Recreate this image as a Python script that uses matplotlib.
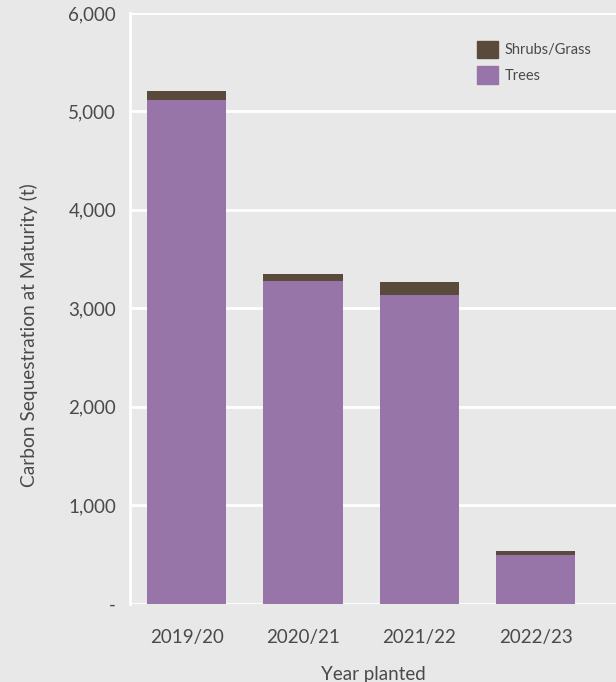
import matplotlib.pyplot as plt
import numpy as np
from matplotlib.patches import Patch
from matplotlib.ticker import FuncFormatter

years = ["2019/20", "2020/21", "2021/22", "2022/23"]
trees = [5115, 3275, 3135, 493]
shrubs = [95, 75, 130, 40]

bg = "#e8e8e8"
purple = "#9875a8"
brown = "#5a4a3c"
txt = "#4a4a4a"
font = ["Lato", "DejaVu Sans"]

fig = plt.figure(figsize=(6.16, 6.82), dpi=100, facecolor=bg)
ax = fig.add_axes([130 / 616, (682 - 603.5) / 682, 1 - 130 / 616, 590.5 / 682])
ax.set_facecolor(bg)

x = np.arange(len(years))
ax.bar(x, trees, width=0.68, color=purple, zorder=3)
ax.bar(x, shrubs, width=0.68, bottom=trees, color=brown, zorder=3)

ax.set_ylim(0, 6000)
ax.set_xlim(-0.486, 3.69)
ax.set_yticks(np.arange(0, 6001, 1000))
ax.yaxis.set_major_formatter(FuncFormatter(lambda v, p: "-" if v == 0 else f"{int(v):,}"))
ax.grid(axis="y", color="white", linewidth=2, zorder=1)
ax.set_axisbelow(True)

for s in ["top", "right", "bottom"]:
    ax.spines[s].set_visible(False)
ax.spines["left"].set_color("white")
ax.spines["left"].set_linewidth(2)

ax.set_xticks(x)
ax.set_xticklabels(years)
ax.tick_params(length=0, labelsize=13.5, labelcolor=txt)
ax.tick_params(axis="y", pad=10)
ax.tick_params(axis="x", pad=18)
for lab in ax.get_xticklabels() + ax.get_yticklabels():
    lab.set_family(font)

ax.set_xlabel("Year planted", fontsize=13.5, color=txt, labelpad=15, family=font)
ax.set_ylabel("Carbon Sequestration at Maturity (t)", fontsize=13.8, color=txt,
              family=["Liberation Sans Narrow", "Lato", "DejaVu Sans"])
ax.yaxis.set_label_coords(-0.189, 0.455)

handles = [Patch(color=brown, label="Shrubs/Grass"), Patch(color=purple, label="Trees")]
leg = ax.legend(handles=handles, loc="upper left", bbox_to_anchor=(0.686, 0.975), frameon=False,
                handlelength=1.45, handleheight=1.45, handletextpad=0.5, labelspacing=0.55,
                prop={"family": font, "size": 10.5})
for t in leg.get_texts():
    t.set_color(txt)

fig.savefig("out.png", dpi=100, facecolor=bg)
